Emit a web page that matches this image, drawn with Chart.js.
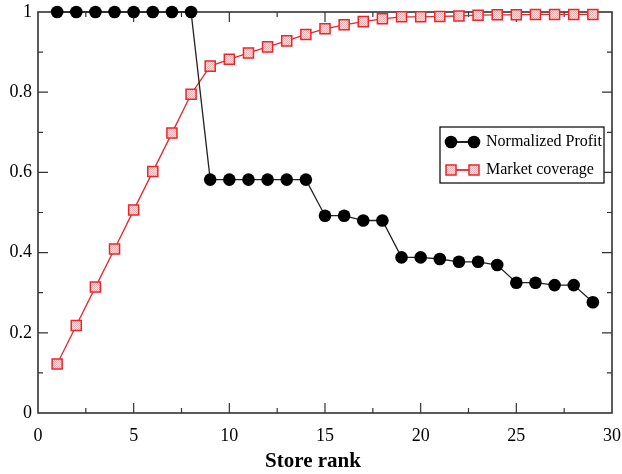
<!DOCTYPE html>
<html>
<head>
<meta charset="utf-8">
<script src="https://cdn.jsdelivr.net/npm/chart.js@4/dist/chart.umd.min.js"></script>
<style>
  html, body { margin: 0; padding: 0; background: #fff; }
  #wrap { width: 622px; height: 474px; }
</style>
</head>
<body>
<div id="wrap"><canvas id="storeChart" width="622" height="474"></canvas></div>
<script>
// Store rank vs normalized profit / market coverage
const storeRanks = [1, 2, 3, 4, 5, 6, 7, 8, 9, 10, 11, 12, 13, 14, 15,
  16, 17, 18, 19, 20, 21, 22, 23, 24, 25, 26, 27, 28, 29];
const normalizedProfit = [1, 1, 1, 1, 1, 1, 1, 1, 0.582, 0.582, 0.582, 0.582, 0.582, 0.582,
  0.492, 0.492, 0.48, 0.48, 0.388, 0.388, 0.384, 0.377, 0.377, 0.369,
  0.325, 0.325, 0.319, 0.319, 0.276];
const marketCoverage = [0.122, 0.218, 0.314, 0.409, 0.506, 0.602, 0.698, 0.795, 0.865, 0.882,
  0.898, 0.913, 0.928, 0.944, 0.958, 0.968, 0.976, 0.983, 0.988, 0.988,
  0.989, 0.99, 0.992, 0.993, 0.993, 0.994, 0.994, 0.994, 0.994];
const xTicks = [0, 5, 10, 15, 20, 25, 30];
const yTicks = [0, 0.2, 0.4, 0.6, 0.8, 1];
const seriesNames = ['Normalized Profit', 'Market coverage'];

const serif = "'Liberation Serif', 'Times New Roman', serif";
const red = '#e8262c';

// dotted pink fill for the square markers
function makeDotPattern() {
  const c = document.createElement('canvas');
  c.width = 2; c.height = 2;
  const g = c.getContext('2d');
  g.fillStyle = '#fdeeee';
  g.fillRect(0, 0, 2, 2);
  g.fillStyle = '#eeb0b0';
  g.fillRect(0, 0, 1, 1);
  g.fillRect(1, 1, 1, 1);
  return g.createPattern(c, 'repeat');
}
const dotFill = makeDotPattern();

// box around the plot with inward ticks on all four sides
const frameTicks = {
  id: 'frameTicks',
  beforeDatasetsDraw(chart) {
    const { ctx, chartArea: a, scales: { x, y } } = chart;
    ctx.save();
    ctx.strokeStyle = '#333';
    ctx.lineWidth = 1.2;
    ctx.beginPath();
    for (let i = 1; i < 12; i++) {
      const px = x.getPixelForValue(i * 2.5);
      const len = i % 2 === 0 ? 10 : 5;
      ctx.moveTo(px, a.bottom); ctx.lineTo(px, a.bottom - len);
      ctx.moveTo(px, a.top); ctx.lineTo(px, a.top + len);
    }
    for (let i = 1; i < 10; i++) {
      const py = y.getPixelForValue(i / 10);
      const len = i % 2 === 0 ? 10 : 5;
      ctx.moveTo(a.left, py); ctx.lineTo(a.left + len, py);
      ctx.moveTo(a.right, py); ctx.lineTo(a.right - len, py);
    }
    ctx.stroke();
    ctx.lineWidth = 1.6;
    ctx.strokeRect(a.left, a.top, a.right - a.left, a.bottom - a.top);
    ctx.restore();
  }
};

// legend box inside the plot + axis title
const boxLegend = {
  id: 'boxLegend',
  afterDraw(chart) {
    const { ctx, chartArea: a } = chart;
    const w = 164, h = 56;
    const left = a.right - w - 8, top = a.top + 115;
    ctx.save();
    ctx.fillStyle = '#fff';
    ctx.fillRect(left, top, w, h);
    ctx.strokeStyle = '#000';
    ctx.lineWidth = 1.2;
    ctx.strokeRect(left, top, w, h);

    const m1 = left + 11, m2 = left + 34, tx = left + 46;
    const r1 = top + 15, r2 = top + 43;

    // row 1: black circles
    ctx.strokeStyle = '#222';
    ctx.lineWidth = 2;
    ctx.beginPath(); ctx.moveTo(m1, r1); ctx.lineTo(m2, r1); ctx.stroke();
    ctx.fillStyle = '#000';
    [m1, m2].forEach(mx => {
      ctx.beginPath(); ctx.arc(mx, r1, 6.3, 0, Math.PI * 2); ctx.fill();
    });

    // row 2: red squares
    ctx.strokeStyle = red;
    ctx.lineWidth = 1.8;
    ctx.beginPath(); ctx.moveTo(m1, r2); ctx.lineTo(m2, r2); ctx.stroke();
    [m1, m2].forEach(mx => {
      ctx.fillStyle = dotFill;
      ctx.fillRect(mx - 5, r2 - 5, 10, 10);
      ctx.lineWidth = 1.5;
      ctx.strokeRect(mx - 5, r2 - 5, 10, 10);
    });

    ctx.fillStyle = '#000';
    ctx.font = '16px ' + serif;
    ctx.textBaseline = 'middle';
    ctx.textAlign = 'left';
    ctx.fillText(seriesNames[0], tx, r1);
    ctx.fillText(seriesNames[1], tx, r2);

    // x axis title
    ctx.font = 'bold 21px ' + serif;
    ctx.textAlign = 'center';
    ctx.fillText('Store rank', chart.width / 2 + 2, 462);
    ctx.restore();
  }
};

new Chart(document.getElementById('storeChart'), {
  type: 'line',
  data: {
    datasets: [
      {
        label: seriesNames[0],
        data: storeRanks.map((r, i) => ({ x: r, y: normalizedProfit[i] })),
        borderColor: '#222',
        borderWidth: 1.3,
        backgroundColor: '#000',
        pointStyle: 'circle',
        pointRadius: 6.3,
        pointBorderWidth: 0,
        pointBackgroundColor: '#000',
        tension: 0,
        clip: false,
        order: 1
      },
      {
        label: seriesNames[1],
        data: storeRanks.map((r, i) => ({ x: r, y: marketCoverage[i] })),
        borderColor: red,
        borderWidth: 1.3,
        pointStyle: 'rect',
        pointRadius: 7.1,
        pointBorderWidth: 1.5,
        pointBorderColor: red,
        pointBackgroundColor: dotFill,
        tension: 0,
        clip: false,
        order: 2
      }
    ]
  },
  options: {
    responsive: false,
    animation: false,
    devicePixelRatio: 1,
    layout: { padding: { top: 12, right: 10, left: 0, bottom: 0 } },
    plugins: {
      legend: { display: false },
      tooltip: { enabled: false }
    },
    scales: {
      x: {
        type: 'linear',
        min: 0,
        max: 30,
        afterBuildTicks: s => { s.ticks = xTicks.map(v => ({ value: v })); },
        afterFit: s => { s.height = 61; s.paddingLeft = 0; s.paddingRight = 0; },
        grid: { display: false, drawTicks: false },
        border: { display: false },
        ticks: { color: '#000', padding: 12, font: { family: serif, size: 18 }, maxRotation: 0 }
      },
      y: {
        type: 'linear',
        min: 0,
        max: 1,
        afterBuildTicks: s => { s.ticks = yTicks.map(v => ({ value: v })); },
        afterFit: s => { s.width = 38; s.paddingTop = 0; s.paddingBottom = 0; },
        grid: { display: false, drawTicks: false },
        border: { display: false },
        ticks: {
          color: '#000',
          padding: 6,
          font: { family: serif, size: 18 },
          callback: v => String(Math.round(v * 10) / 10)
        }
      }
    }
  },
  plugins: [frameTicks, boxLegend]
});
</script>
</body>
</html>
